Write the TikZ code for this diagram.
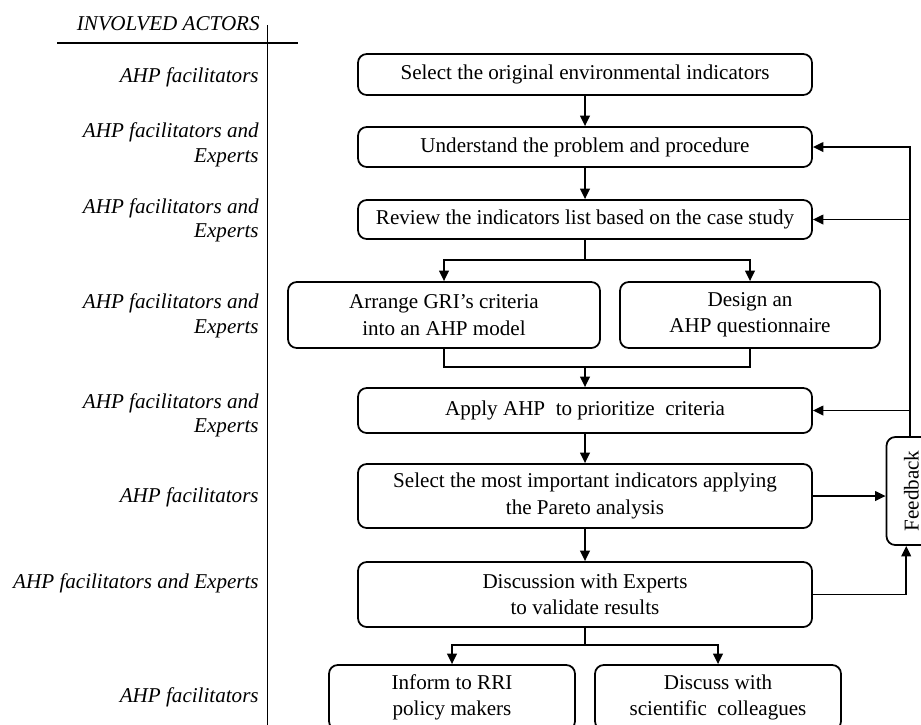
\documentclass[tikz,border=0pt]{standalone}
\usepackage{fontspec}
\setmainfont{Liberation Serif}
\usetikzlibrary{shapes}
\usetikzlibrary{arrows.meta}

\tikzset{
  wire/.style={line width=1pt},
  stepbox/.style={draw, wire, rounded corners=5pt, align=center, inner sep=0pt,
    font=\fontsize{12}{15}\selectfont},
  actor/.style={anchor=east, align=right, inner sep=0pt,
    font=\fontsize{12}{14}\selectfont\itshape}
}

\begin{document}
\begin{tikzpicture}[>={Triangle[length=6pt,width=5.5pt]}]
\useasboundingbox (0,0) rectangle (18.42,-14.48);
\clip (0,0) rectangle (18.42,-14.48);
% actors column
\node [actor] (head) at (5.2,-0.48) {INVOLVED ACTORS};
\draw [wire] (1.14,-0.86) -- (5.96,-0.86);
\draw [wire] (5.35,-0.5) -- (5.35,-14.6);
\foreach \y/\who [count=\i] in {-1.54/{AHP facilitators},
    -2.9/{AHP facilitators and\\Experts}, -4.41/{AHP facilitators and\\Experts},
    -6.32/{AHP facilitators and\\Experts}, -8.31/{AHP facilitators and\\Experts},
    -9.94/{AHP facilitators}, -11.66/{AHP facilitators and Experts},
    -13.94/{AHP facilitators}}
	\node [actor] (actor\i) at (5.18,\y) {\who};
% process boxes
\node [stepbox, minimum width=9.08cm, minimum height=0.82cm] (select) at (11.7,-1.49)
  {Select the original environmental indicators};
\node [stepbox, minimum width=9.08cm, minimum height=0.8cm] (understand) at (11.7,-2.94)
  {Understand the problem and procedure};
\node [stepbox, minimum width=9.08cm, minimum height=0.78cm] (review) at (11.7,-4.39)
  {Review the indicators list based on the case study};
\node [stepbox, minimum width=6.24cm, minimum height=1.32cm] (arrange) at (8.88,-6.3)
  {Arrange GRI’s criteria\\into an AHP model};
\node [stepbox, minimum width=5.2cm, minimum height=1.32cm] (design) at (15.0,-6.3)
  {Design an\\AHP questionnaire};
\node [stepbox, minimum width=9.08cm, minimum height=0.9cm] (apply) at (11.7,-8.21)
  {Apply AHP~ to prioritize~ criteria};
\node [stepbox, minimum width=9.08cm, minimum height=1.28cm] (pareto) at (11.7,-9.92)
  {Select the most important indicators applying\\the Pareto analysis};
\node [stepbox, minimum width=9.08cm, minimum height=1.3cm] (discussion) at (11.7,-11.89)
  {Discussion with Experts\\to validate results};
\node [stepbox, minimum width=4.92cm, minimum height=1.3cm] (inform) at (9.04,-13.95)
  {Inform to RRI\\policy makers};
\node [stepbox, minimum width=4.92cm, minimum height=1.3cm] (discuss) at (14.36,-13.95)
  {Discuss with\\scientific~ colleagues};
\node [stepbox, minimum width=1.0cm, minimum height=2.16cm] (feedback) at (18.23,-9.82)
  {\rotatebox{90}{Feedback}};
% flow
\coordinate (fork) at (11.7,-5.2);
\coordinate (join) at (11.7,-7.34);
\coordinate (split) at (11.7,-12.9);
\draw [wire,->] (select) -- (understand);
\draw [wire,->] (understand) -- (review);
\draw [wire] (review) -- (fork);
\draw [wire,->] (fork) -| (arrange.north);
\draw [wire,->] (fork) -| (design.north);
\draw [wire] (arrange.south) |- (join) -| (design.south);
\draw [wire,->] (join) -- (apply);
\draw [wire,->] (apply) -- (pareto);
\draw [wire,->] (pareto) -- (discussion);
\draw [wire] (discussion) -- (split);
\draw [wire,->] (split) -| (inform.north);
\draw [wire,->] (split) -| (discuss.north);
% feedback loop
\draw [wire,->] (pareto.east) -- (pareto.east -| feedback.west);
\draw [wire,->] (discussion.east) -| ([xshift=-3pt]feedback.south);
\draw [wire,->] ([xshift=-1pt]feedback.north) |- (understand.east);
\draw [wire,->] ([xshift=-1pt]feedback.north |- review.east) -- (review.east);
\draw [wire,->] ([xshift=-1pt]feedback.north |- apply.east) -- (apply.east);
\end{tikzpicture}
\end{document}
